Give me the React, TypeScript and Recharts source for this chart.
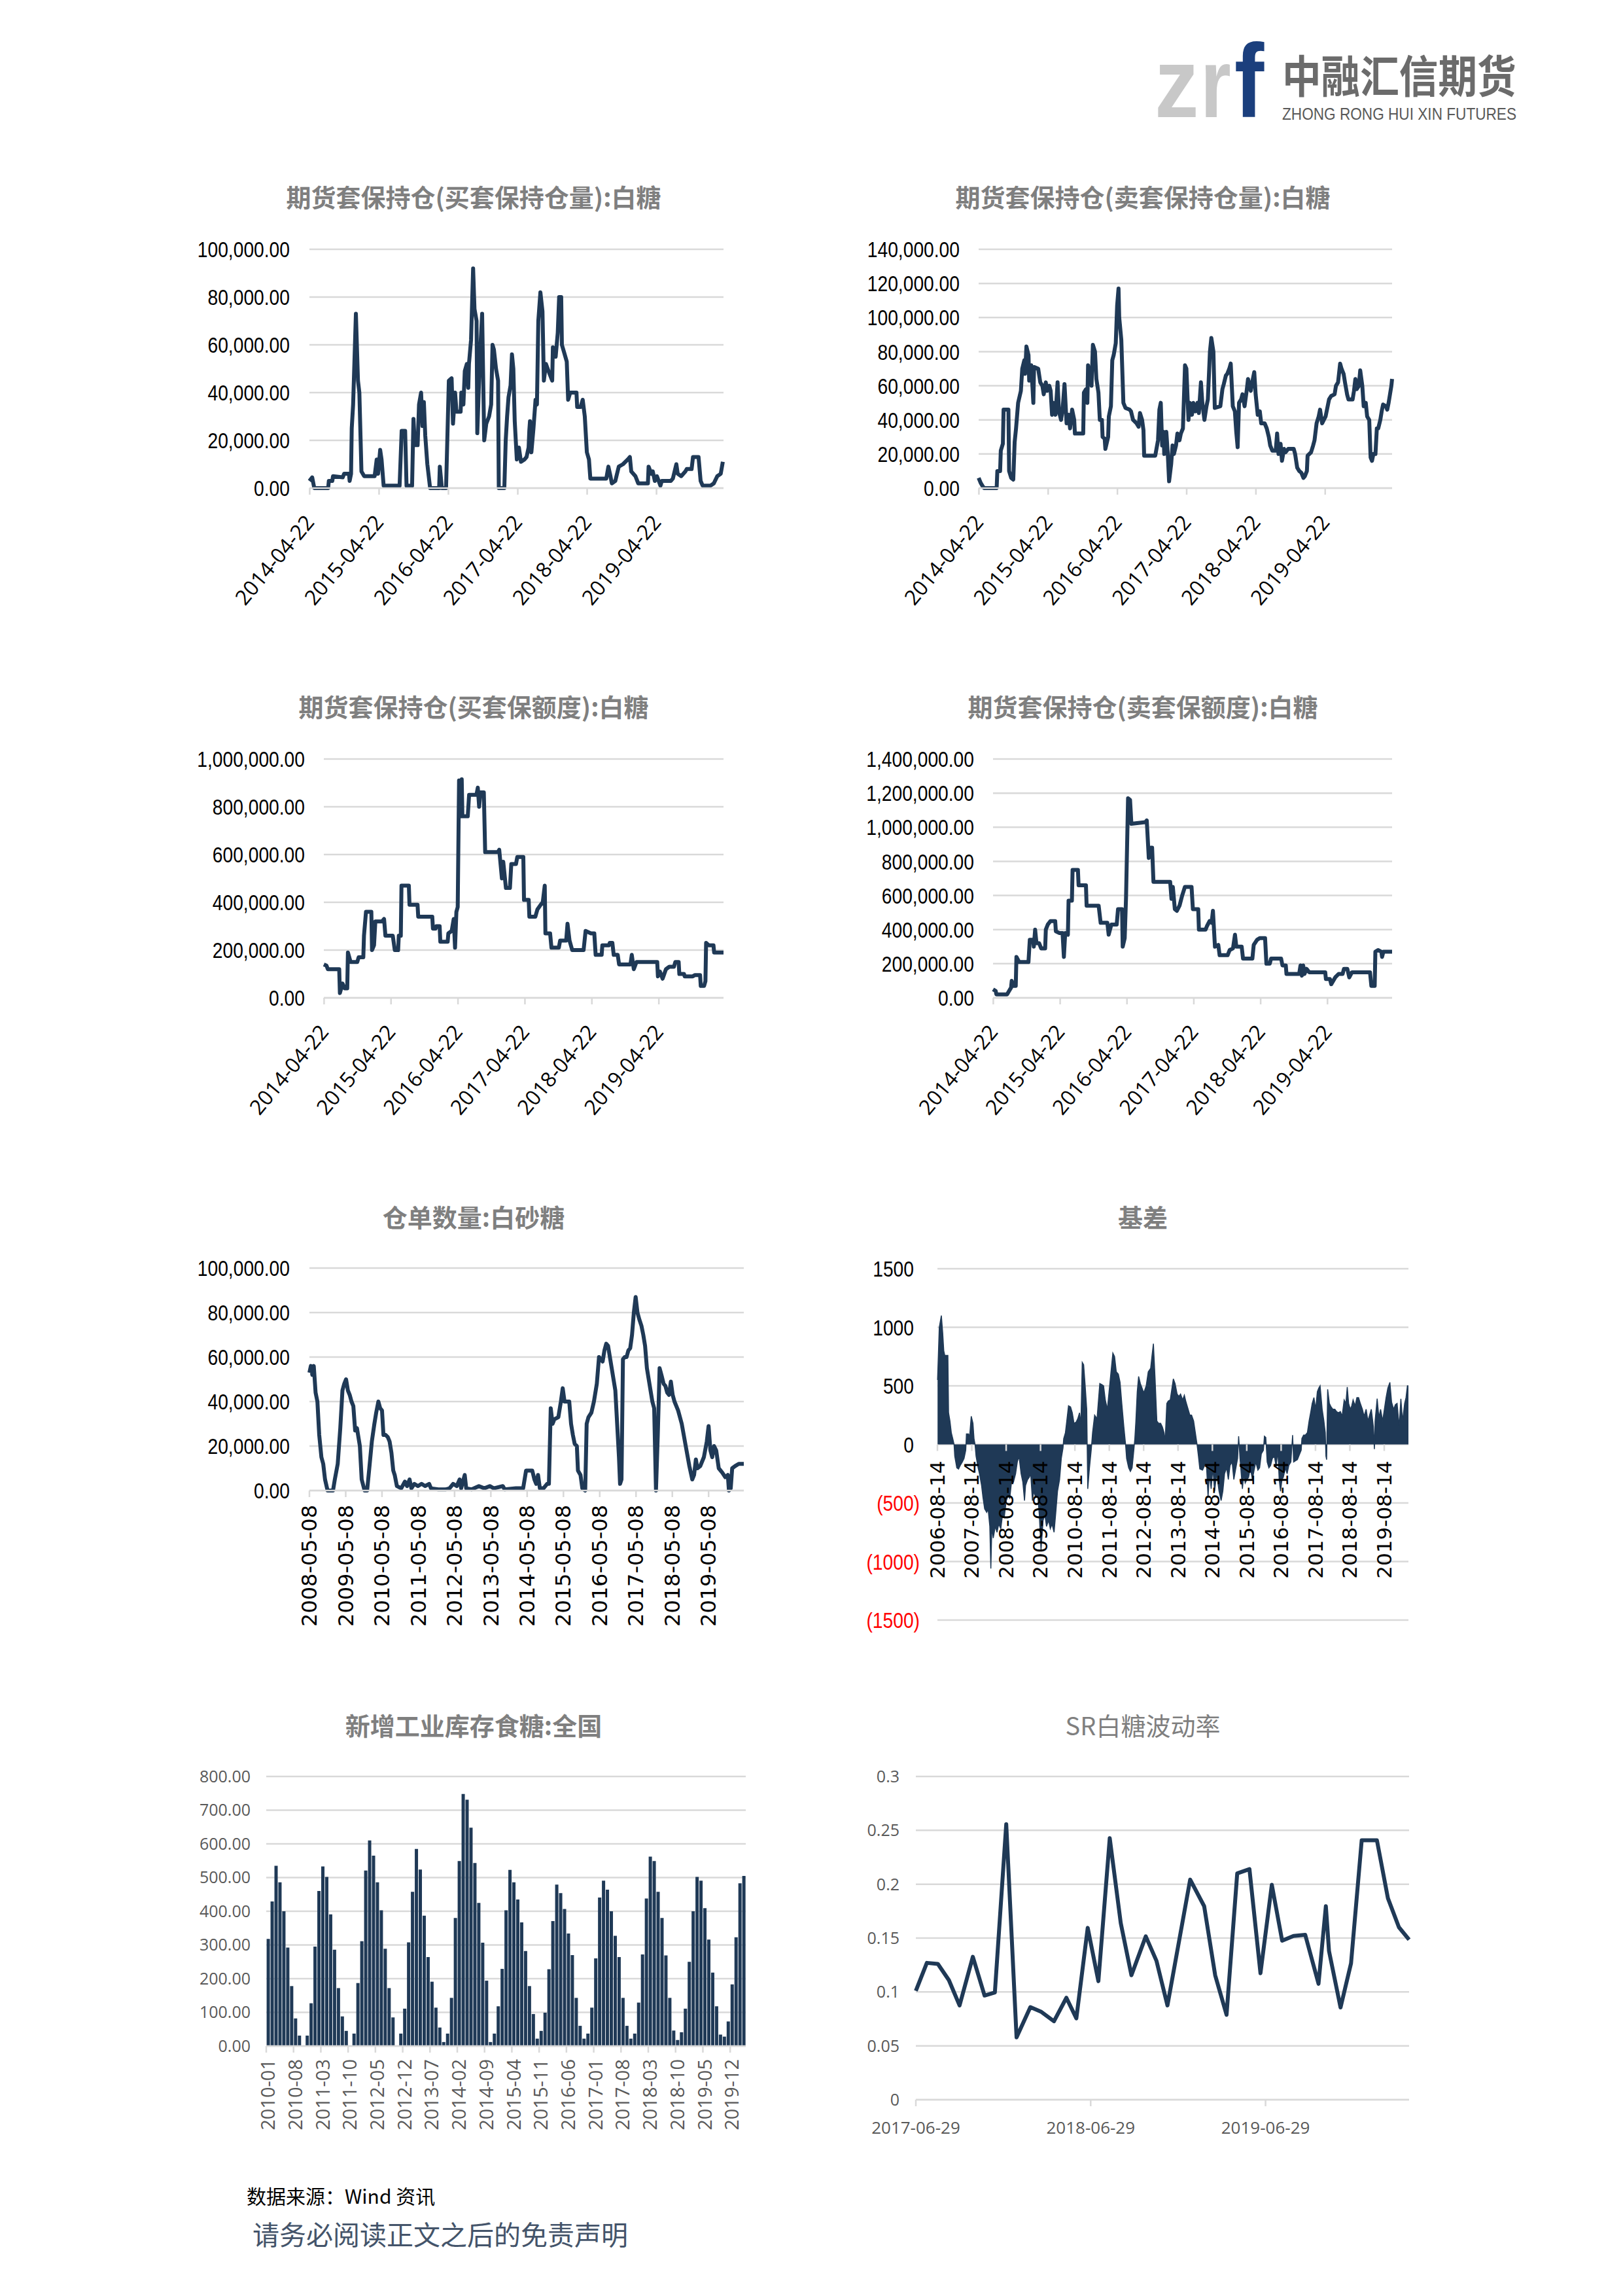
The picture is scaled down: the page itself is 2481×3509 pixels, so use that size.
import React from "react";
import { LineChart, Line, AreaChart, Area, BarChart, Bar, XAxis, YAxis, CartesianGrid } from "recharts";

const NAVY = "#1f3956";
const GRID = "#d9d9d9";
const GREY = "#595959";
const ARIAL = "'Liberation Sans', Arial, sans-serif";
const SANS = "'Open Sans', 'Noto Sans', sans-serif";
const DEJAVU = "'DejaVu Sans', 'Open Sans', sans-serif";
const CJK = "'Noto Sans CJK SC', 'Noto Sans', sans-serif";

// ---- tick labels ----
const holdTicks = [2014.304, 2015.304, 2016.304, 2017.304, 2018.304, 2019.304];
const holdTickLabels = ["2014-04-22", "2015-04-22", "2016-04-22", "2017-04-22", "2018-04-22", "2019-04-22"];
const holdEnd = 2020.27;

const receiptTicks = [2008.35, 2009.35, 2010.35, 2011.35, 2012.35, 2013.35, 2014.35, 2015.35, 2016.35, 2017.35, 2018.35, 2019.35];
const receiptTickLabels = ["2008-05-08", "2009-05-08", "2010-05-08", "2011-05-08", "2012-05-08", "2013-05-08", "2014-05-08", "2015-05-08", "2016-05-08", "2017-05-08", "2018-05-08", "2019-05-08"];
const receiptEnd = 2020.32;

const basisTicks = [2006.616, 2007.616, 2008.616, 2009.616, 2010.616, 2011.616, 2012.616, 2013.616, 2014.616, 2015.616, 2016.616, 2017.616, 2018.616, 2019.616];
const basisTickLabels = ["2006-08-14", "2007-08-14", "2008-08-14", "2009-08-14", "2010-08-14", "2011-08-14", "2012-08-14", "2013-08-14", "2014-08-14", "2015-08-14", "2016-08-14", "2017-08-14", "2018-08-14", "2019-08-14"];
const basisEnd = 2020.32;

const volTicks = [2017.49, 2018.49, 2019.49];
const volTickLabels = ["2017-06-29", "2018-06-29", "2019-06-29"];
const volEnd = 2020.311;

const yVolumeBuy = [0, 20000, 40000, 60000, 80000, 100000];
const yVolumeSell = [0, 20000, 40000, 60000, 80000, 100000, 120000, 140000];
const yQuotaBuy = [0, 200000, 400000, 600000, 800000, 1000000];
const yQuotaSell = [0, 200000, 400000, 600000, 800000, 1000000, 1200000, 1400000];
const yReceipts = [0, 20000, 40000, 60000, 80000, 100000];
const yBasis = [-1500, -1000, -500, 0, 500, 1000, 1500];
const yInventory = [0, 100, 200, 300, 400, 500, 600, 700, 800];
const yVol = [0, 0.05, 0.1, 0.15, 0.2, 0.25, 0.3];

// ---- series: [decimal year, value] ----
const buyHedgeVolume: [number, number][] = [
  [2014.30,3000],[2014.34,4500],[2014.37,0],[2014.57,0],[2014.58,3000],[2014.63,3000],[2014.64,5000],[2014.78,4500],[2014.80,6000],[2014.87,6000],[2014.88,3000],[2014.90,6000],[2014.91,25000],[2014.93,35000],[2014.97,73000],[2015.00,45000],[2015.02,40000],[2015.05,7000],[2015.09,5000],[2015.24,5000],[2015.27,12000],[2015.29,6000],[2015.32,16000],[2015.34,12000],[2015.37,1000],[2015.60,1000],[2015.63,24000],[2015.68,24000],[2015.70,1000],[2015.78,1000],[2015.80,29000],[2015.82,18000],[2015.86,18000],[2015.88,35000],[2015.91,40000],[2015.93,26000],[2015.95,36000],[2015.97,22000],[2016.00,10000],[2016.04,0],[2016.17,0],[2016.18,9000],[2016.21,0],[2016.27,0],[2016.31,45000],[2016.35,46000],[2016.37,27000],[2016.40,40000],[2016.42,32000],[2016.48,32000],[2016.49,40000],[2016.52,35000],[2016.54,49000],[2016.57,52000],[2016.59,42000],[2016.60,52000],[2016.63,62000],[2016.66,92000],[2016.68,75000],[2016.71,70000],[2016.72,23000],[2016.74,40000],[2016.76,56000],[2016.79,73000],[2016.82,20000],[2016.85,27000],[2016.89,30000],[2016.92,35000],[2016.94,60000],[2016.96,58000],[2016.99,50000],[2017.02,45000],[2017.03,0],[2017.11,0],[2017.13,20000],[2017.15,30000],[2017.17,38000],[2017.20,43000],[2017.22,56000],[2017.24,50000],[2017.26,28000],[2017.29,12000],[2017.32,17000],[2017.35,11000],[2017.40,12000],[2017.43,13000],[2017.46,17000],[2017.47,24000],[2017.48,28000],[2017.50,15000],[2017.53,25000],[2017.56,37000],[2017.58,35000],[2017.60,70000],[2017.63,82000],[2017.66,74000],[2017.68,45000],[2017.71,52000],[2017.76,48000],[2017.80,45000],[2017.81,59000],[2017.85,55000],[2017.88,65000],[2017.90,80000],[2017.93,80000],[2017.94,60000],[2017.97,57000],[2018.01,53000],[2018.03,37000],[2018.06,40000],[2018.15,40000],[2018.16,34000],[2018.21,34000],[2018.24,37000],[2018.27,30000],[2018.30,15000],[2018.33,12000],[2018.35,4000],[2018.58,4000],[2018.61,9000],[2018.64,5000],[2018.66,2000],[2018.71,3000],[2018.76,9000],[2018.82,10000],[2018.89,12000],[2018.92,13000],[2018.94,7000],[2019.00,5000],[2019.04,2000],[2019.18,2000],[2019.19,9000],[2019.23,6000],[2019.25,7000],[2019.28,3000],[2019.31,5000],[2019.36,1000],[2019.38,3000],[2019.51,3000],[2019.54,4000],[2019.59,10000],[2019.61,6000],[2019.66,5000],[2019.72,7000],[2019.74,8000],[2019.81,8000],[2019.83,13000],[2019.91,13000],[2019.94,3000],[2019.97,1000],[2020.08,1000],[2020.13,2000],[2020.18,5000],[2020.23,6000],[2020.26,11000],
];

const sellHedgeVolume: [number, number][] = [
  [2014.30,6000],[2014.33,3000],[2014.36,1000],[2014.38,0],[2014.56,0],[2014.57,10000],[2014.61,10000],[2014.62,22000],[2014.65,26000],[2014.66,46000],[2014.73,46000],[2014.74,10000],[2014.77,6000],[2014.80,5000],[2014.82,27000],[2014.84,35000],[2014.87,50000],[2014.91,57000],[2014.93,70000],[2014.96,75000],[2014.97,67000],[2014.99,83000],[2015.02,78000],[2015.03,63000],[2015.06,72000],[2015.09,50000],[2015.10,71000],[2015.16,70000],[2015.19,62000],[2015.22,60000],[2015.24,55000],[2015.27,62000],[2015.29,57000],[2015.32,60000],[2015.34,57000],[2015.36,43000],[2015.38,50000],[2015.41,43000],[2015.44,62000],[2015.46,45000],[2015.49,40000],[2015.51,45000],[2015.54,61000],[2015.57,38000],[2015.60,43000],[2015.62,35000],[2015.65,46000],[2015.68,40000],[2015.69,32000],[2015.81,32000],[2015.82,56000],[2015.85,58000],[2015.87,50000],[2015.88,72000],[2015.93,60000],[2015.95,84000],[2015.98,80000],[2016.00,64000],[2016.03,56000],[2016.05,40000],[2016.08,40000],[2016.09,30000],[2016.12,29000],[2016.13,23000],[2016.17,30000],[2016.18,42000],[2016.21,48000],[2016.23,75000],[2016.25,78000],[2016.28,85000],[2016.30,107000],[2016.32,117000],[2016.33,100000],[2016.36,87000],[2016.39,50000],[2016.42,47000],[2016.48,46000],[2016.50,45000],[2016.53,40000],[2016.58,38000],[2016.61,36000],[2016.63,44000],[2016.66,40000],[2016.68,34000],[2016.69,19000],[2016.85,19000],[2016.89,28000],[2016.91,46000],[2016.93,50000],[2016.95,25000],[2016.97,33000],[2016.98,20000],[2017.01,33000],[2017.03,21000],[2017.05,4000],[2017.08,14000],[2017.10,25000],[2017.12,20000],[2017.15,25000],[2017.17,32000],[2017.20,28000],[2017.22,32000],[2017.25,35000],[2017.28,72000],[2017.30,70000],[2017.33,40000],[2017.35,50000],[2017.38,43000],[2017.40,50000],[2017.43,45000],[2017.46,50000],[2017.48,44000],[2017.51,62000],[2017.53,50000],[2017.56,40000],[2017.59,48000],[2017.61,52000],[2017.64,80000],[2017.66,88000],[2017.69,80000],[2017.71,47000],[2017.79,48000],[2017.82,58000],[2017.84,61000],[2017.87,66000],[2017.89,67000],[2017.92,70000],[2017.94,73000],[2017.97,48000],[2018.00,45000],[2018.02,33000],[2018.04,24000],[2018.06,50000],[2018.09,52000],[2018.11,55000],[2018.14,48000],[2018.17,57000],[2018.19,64000],[2018.23,57000],[2018.25,62000],[2018.28,68000],[2018.30,55000],[2018.33,43000],[2018.36,45000],[2018.38,38000],[2018.43,38000],[2018.46,35000],[2018.49,30000],[2018.51,25000],[2018.54,22000],[2018.59,22000],[2018.61,32000],[2018.63,20000],[2018.66,26000],[2018.68,16000],[2018.71,23000],[2018.73,21000],[2018.77,23000],[2018.85,23000],[2018.87,20000],[2018.90,12000],[2018.93,10000],[2018.96,9000],[2018.99,6000],[2019.01,7000],[2019.04,10000],[2019.05,19000],[2019.10,21000],[2019.13,25000],[2019.15,28000],[2019.18,38000],[2019.21,42000],[2019.23,46000],[2019.26,38000],[2019.31,42000],[2019.36,52000],[2019.39,54000],[2019.44,55000],[2019.46,60000],[2019.49,62000],[2019.52,73000],[2019.54,70000],[2019.57,67000],[2019.59,62000],[2019.62,55000],[2019.64,52000],[2019.70,52000],[2019.72,57000],[2019.74,64000],[2019.76,58000],[2019.79,60000],[2019.81,69000],[2019.84,60000],[2019.86,48000],[2019.89,50000],[2019.91,42000],[2019.94,40000],[2019.96,18000],[2019.98,16000],[2020.00,20000],[2020.03,20000],[2020.05,35000],[2020.07,35000],[2020.10,40000],[2020.12,45000],[2020.14,49000],[2020.18,48000],[2020.20,46000],[2020.22,50000],[2020.24,55000],[2020.26,60000],[2020.27,64000],
];

const buyHedgeQuota: [number, number][] = [
  [2014.30,140000],[2014.34,135000],[2014.36,120000],[2014.53,120000],[2014.54,20000],[2014.58,60000],[2014.61,40000],[2014.65,40000],[2014.66,190000],[2014.70,150000],[2014.80,150000],[2014.82,170000],[2014.89,170000],[2014.90,260000],[2014.93,360000],[2015.01,360000],[2015.02,200000],[2015.05,220000],[2015.07,320000],[2015.17,320000],[2015.20,330000],[2015.22,260000],[2015.33,260000],[2015.36,200000],[2015.41,200000],[2015.42,260000],[2015.45,260000],[2015.46,470000],[2015.57,470000],[2015.58,390000],[2015.70,390000],[2015.71,340000],[2015.92,340000],[2015.93,290000],[2015.97,290000],[2015.98,300000],[2016.03,300000],[2016.04,235000],[2016.15,235000],[2016.16,270000],[2016.21,280000],[2016.24,330000],[2016.26,210000],[2016.28,360000],[2016.30,380000],[2016.32,910000],[2016.34,760000],[2016.36,915000],[2016.37,760000],[2016.45,760000],[2016.47,850000],[2016.58,850000],[2016.60,880000],[2016.62,800000],[2016.64,860000],[2016.69,860000],[2016.71,610000],[2016.90,610000],[2016.92,620000],[2016.96,500000],[2016.98,570000],[2017.02,460000],[2017.08,460000],[2017.10,560000],[2017.17,560000],[2017.19,590000],[2017.28,590000],[2017.29,410000],[2017.36,410000],[2017.37,340000],[2017.46,340000],[2017.49,370000],[2017.54,390000],[2017.57,400000],[2017.60,470000],[2017.61,270000],[2017.68,270000],[2017.70,210000],[2017.81,210000],[2017.83,240000],[2017.92,240000],[2017.94,310000],[2017.97,240000],[2018.01,200000],[2018.18,200000],[2018.21,280000],[2018.29,270000],[2018.34,270000],[2018.36,180000],[2018.45,180000],[2018.46,220000],[2018.56,220000],[2018.57,230000],[2018.61,230000],[2018.63,180000],[2018.69,180000],[2018.71,140000],[2018.88,140000],[2018.90,180000],[2018.93,120000],[2018.97,150000],[2019.28,150000],[2019.29,90000],[2019.32,110000],[2019.36,80000],[2019.41,120000],[2019.46,130000],[2019.53,130000],[2019.55,150000],[2019.60,150000],[2019.61,100000],[2019.68,100000],[2019.69,90000],[2019.81,90000],[2019.84,95000],[2019.92,95000],[2019.93,50000],[2019.98,50000],[2020.00,70000],[2020.01,230000],[2020.05,220000],[2020.12,220000],[2020.13,190000],[2020.27,190000],
];

const sellHedgeQuota: [number, number][] = [
  [2014.30,50000],[2014.34,40000],[2014.35,20000],[2014.51,20000],[2014.54,40000],[2014.57,60000],[2014.58,100000],[2014.60,70000],[2014.64,70000],[2014.65,240000],[2014.69,210000],[2014.83,210000],[2014.85,340000],[2014.90,340000],[2014.91,300000],[2014.93,400000],[2014.95,320000],[2014.99,320000],[2015.02,290000],[2015.08,290000],[2015.09,400000],[2015.12,430000],[2015.16,450000],[2015.23,450000],[2015.24,390000],[2015.29,380000],[2015.34,380000],[2015.36,240000],[2015.38,380000],[2015.42,370000],[2015.43,570000],[2015.48,570000],[2015.49,750000],[2015.57,750000],[2015.58,660000],[2015.69,660000],[2015.70,540000],[2015.88,540000],[2015.91,440000],[2016.01,440000],[2016.03,370000],[2016.07,430000],[2016.15,430000],[2016.17,520000],[2016.23,520000],[2016.24,300000],[2016.27,350000],[2016.29,590000],[2016.32,1170000],[2016.35,1160000],[2016.37,1020000],[2016.58,1030000],[2016.60,1040000],[2016.63,820000],[2016.66,880000],[2016.68,880000],[2016.70,680000],[2016.95,680000],[2016.97,580000],[2016.99,650000],[2017.02,520000],[2017.05,510000],[2017.09,540000],[2017.13,600000],[2017.17,650000],[2017.27,650000],[2017.29,520000],[2017.37,520000],[2017.38,400000],[2017.48,400000],[2017.50,420000],[2017.54,450000],[2017.57,440000],[2017.59,510000],[2017.62,300000],[2017.67,310000],[2017.69,250000],[2017.81,250000],[2017.84,280000],[2017.89,290000],[2017.92,370000],[2017.94,300000],[2018.02,300000],[2018.04,230000],[2018.18,230000],[2018.20,310000],[2018.25,340000],[2018.29,350000],[2018.37,350000],[2018.39,200000],[2018.44,200000],[2018.46,230000],[2018.61,230000],[2018.63,190000],[2018.68,190000],[2018.69,140000],[2018.88,140000],[2018.90,190000],[2018.92,130000],[2018.94,190000],[2018.96,140000],[2018.99,170000],[2019.03,150000],[2019.27,150000],[2019.28,110000],[2019.34,110000],[2019.36,80000],[2019.42,120000],[2019.47,140000],[2019.53,140000],[2019.55,170000],[2019.60,170000],[2019.63,120000],[2019.67,150000],[2019.71,150000],[2019.94,150000],[2019.96,70000],[2020.01,70000],[2020.02,270000],[2020.06,280000],[2020.11,270000],[2020.12,240000],[2020.14,270000],[2020.27,270000],
];

const warehouseReceipts: [number, number][] = [
  [2008.35,53000],[2008.39,56000],[2008.43,52000],[2008.47,56000],[2008.52,44000],[2008.57,40000],[2008.62,25000],[2008.68,15000],[2008.73,12000],[2008.78,5000],[2008.85,0],[2009.00,0],[2009.05,5000],[2009.13,12000],[2009.20,28000],[2009.26,45000],[2009.31,48000],[2009.36,50000],[2009.41,45000],[2009.46,43000],[2009.51,40000],[2009.56,38000],[2009.61,27000],[2009.66,28000],[2009.74,20000],[2009.79,5000],[2009.87,0],[2009.94,0],[2010.00,10000],[2010.07,22000],[2010.14,30000],[2010.19,35000],[2010.25,40000],[2010.30,37000],[2010.35,36000],[2010.39,25000],[2010.45,25000],[2010.51,24000],[2010.56,22000],[2010.61,17000],[2010.66,9000],[2010.70,7000],[2010.76,2000],[2010.88,1000],[2010.98,4000],[2011.04,2000],[2011.11,5000],[2011.16,1000],[2011.24,3000],[2011.34,2000],[2011.44,3000],[2011.54,2000],[2011.65,3000],[2011.70,1000],[2011.90,500],[2012.10,500],[2012.21,1000],[2012.31,3000],[2012.41,2000],[2012.49,5000],[2012.53,1000],[2012.63,7000],[2012.67,1000],[2012.82,500],[2013.02,2000],[2013.17,1000],[2013.32,2000],[2013.43,1000],[2013.68,2000],[2013.73,500],[2014.04,1000],[2014.24,1000],[2014.32,9000],[2014.39,9000],[2014.49,9000],[2014.55,5000],[2014.60,3000],[2014.65,7000],[2014.70,1000],[2014.80,1000],[2014.90,3000],[2014.95,3000],[2015.00,37000],[2015.05,30000],[2015.10,32000],[2015.21,33000],[2015.28,40000],[2015.33,46000],[2015.38,40000],[2015.51,40000],[2015.56,30000],[2015.61,25000],[2015.66,21000],[2015.72,20000],[2015.75,9000],[2015.82,7000],[2015.87,1000],[2015.95,0],[2015.99,30000],[2016.04,33000],[2016.12,35000],[2016.19,40000],[2016.27,48000],[2016.33,60000],[2016.38,59000],[2016.43,58000],[2016.48,63000],[2016.53,66000],[2016.58,65000],[2016.63,60000],[2016.68,55000],[2016.73,50000],[2016.78,45000],[2016.83,30000],[2016.88,15000],[2016.91,3000],[2016.95,5000],[2016.99,59000],[2017.04,60000],[2017.09,60000],[2017.14,63000],[2017.19,64000],[2017.24,70000],[2017.29,80000],[2017.34,87000],[2017.39,80000],[2017.44,77000],[2017.50,74000],[2017.55,70000],[2017.60,65000],[2017.65,55000],[2017.70,50000],[2017.75,45000],[2017.80,40000],[2017.85,37000],[2017.90,0],[2017.95,25000],[2018.00,55000],[2018.05,52000],[2018.11,48000],[2018.16,47000],[2018.21,44000],[2018.26,43000],[2018.31,49000],[2018.36,43000],[2018.41,40000],[2018.51,36000],[2018.61,30000],[2018.72,20000],[2018.82,11000],[2018.90,5000],[2018.95,7000],[2019.00,14000],[2019.04,10000],[2019.12,11000],[2019.22,15000],[2019.30,22000],[2019.35,29000],[2019.40,18000],[2019.45,15000],[2019.50,20000],[2019.56,18000],[2019.63,10000],[2019.73,8000],[2019.81,6000],[2019.88,7000],[2019.91,0],[2019.96,1000],[2020.00,10000],[2020.08,11000],[2020.18,12000],[2020.32,12000],
];

const basis: [number, number][] = [
  [2006.62,550],[2006.67,1000],[2006.73,1100],[2006.77,950],[2006.80,800],[2006.83,760],[2006.92,760],[2006.94,270],[2006.98,200],[2007.02,100],[2007.07,40],[2007.10,0],[2007.12,-100],[2007.18,-200],[2007.23,-210],[2007.28,-180],[2007.34,-150],[2007.39,-120],[2007.44,-50],[2007.46,90],[2007.52,90],[2007.55,60],[2007.60,240],[2007.65,180],[2007.68,50],[2007.71,0],[2007.74,-100],[2007.80,-200],[2007.84,-250],[2007.90,-350],[2007.94,-450],[2007.99,-550],[2008.05,-580],[2008.09,-550],[2008.14,-700],[2008.17,-1060],[2008.20,-700],[2008.24,-800],[2008.30,-700],[2008.35,-750],[2008.40,-680],[2008.46,-720],[2008.51,-600],[2008.56,-620],[2008.62,-480],[2008.67,-440],[2008.72,-460],[2008.78,-300],[2008.83,-320],[2008.89,-250],[2008.94,-150],[2008.99,-100],[2009.05,-250],[2009.10,-320],[2009.15,-480],[2009.18,-350],[2009.24,-300],[2009.29,-280],[2009.33,-250],[2009.38,-480],[2009.42,-400],[2009.47,-450],[2009.53,-420],[2009.58,-600],[2009.63,-900],[2009.69,-650],[2009.74,-600],[2009.79,-700],[2009.85,-650],[2009.90,-720],[2009.95,-680],[2010.01,-750],[2010.06,-580],[2010.11,-400],[2010.17,-300],[2010.22,-120],[2010.27,-30],[2010.29,50],[2010.34,100],[2010.38,200],[2010.43,330],[2010.49,320],[2010.54,270],[2010.59,180],[2010.65,190],[2010.70,220],[2010.75,270],[2010.79,170],[2010.83,700],[2010.87,680],[2010.91,520],[2010.96,300],[2010.99,-380],[2011.04,-200],[2011.09,-50],[2011.13,100],[2011.19,250],[2011.26,220],[2011.34,520],[2011.40,510],[2011.45,500],[2011.50,380],[2011.56,300],[2011.61,450],[2011.66,600],[2011.72,780],[2011.77,750],[2011.82,620],[2011.88,600],[2011.93,530],[2011.98,350],[2012.04,150],[2012.09,0],[2012.12,-120],[2012.18,-200],[2012.23,-230],[2012.28,-200],[2012.33,-50],[2012.36,50],[2012.39,200],[2012.43,450],[2012.47,580],[2012.52,520],[2012.57,480],[2012.62,440],[2012.69,500],[2012.75,620],[2012.82,650],[2012.86,760],[2012.90,860],[2012.95,550],[2013.00,200],[2013.05,180],[2013.11,180],[2013.16,150],[2013.21,100],[2013.24,20],[2013.29,350],[2013.33,370],[2013.39,380],[2013.48,560],[2013.53,520],[2013.59,430],[2013.64,410],[2013.69,430],[2013.75,380],[2013.80,420],[2013.85,360],[2013.91,300],[2013.96,250],[2014.01,250],[2014.07,200],[2014.12,100],[2014.17,0],[2014.21,-100],[2014.25,-210],[2014.33,-220],[2014.39,-180],[2014.44,-150],[2014.49,-450],[2014.53,-250],[2014.58,-380],[2014.63,-200],[2014.68,-400],[2014.74,-250],[2014.81,-400],[2014.87,-480],[2014.92,-400],[2014.97,-250],[2015.03,-200],[2015.08,-300],[2015.13,-180],[2015.19,-150],[2015.24,-300],[2015.30,-200],[2015.35,-120],[2015.38,70],[2015.42,-120],[2015.49,-380],[2015.53,-250],[2015.57,-330],[2015.62,-300],[2015.67,-280],[2015.72,-200],[2015.78,-300],[2015.83,-220],[2015.88,-150],[2015.94,-220],[2015.99,-200],[2016.04,-80],[2016.10,-50],[2016.13,70],[2016.17,60],[2016.21,-150],[2016.26,-200],[2016.31,-180],[2016.36,-120],[2016.42,-100],[2016.47,-190],[2016.52,-50],[2016.56,-300],[2016.60,-400],[2016.64,-300],[2016.68,-280],[2016.74,-200],[2016.79,-250],[2016.84,-180],[2016.90,-150],[2016.95,80],[2016.98,-150],[2017.03,-140],[2017.09,-130],[2017.13,-100],[2017.20,-50],[2017.22,50],[2017.27,80],[2017.32,80],[2017.38,100],[2017.43,200],[2017.48,280],[2017.52,350],[2017.57,400],[2017.62,300],[2017.67,450],[2017.71,480],[2017.75,500],[2017.81,300],[2017.86,200],[2017.90,100],[2017.92,-100],[2017.94,-130],[2017.97,470],[2018.02,350],[2018.07,320],[2018.12,300],[2018.18,300],[2018.23,280],[2018.28,270],[2018.34,280],[2018.39,240],[2018.45,380],[2018.50,350],[2018.54,490],[2018.58,350],[2018.63,300],[2018.67,330],[2018.71,380],[2018.77,330],[2018.82,400],[2018.87,400],[2018.92,350],[2018.98,300],[2019.03,240],[2019.09,300],[2019.14,200],[2019.19,250],[2019.24,300],[2019.30,150],[2019.33,-40],[2019.35,200],[2019.41,390],[2019.46,230],[2019.51,300],[2019.57,200],[2019.62,300],[2019.67,400],[2019.72,480],[2019.78,530],[2019.83,360],[2019.89,300],[2019.94,340],[2019.99,350],[2020.05,150],[2020.10,390],[2020.15,200],[2020.21,350],[2020.25,400],[2020.29,500],[2020.32,500],
];

const inventoryMonths = [
  "2010-01","2010-02","2010-03","2010-04","2010-05","2010-06","2010-07","2010-08","2010-09","2010-10","2010-11","2010-12",
  "2011-01","2011-02","2011-03","2011-04","2011-05","2011-06","2011-07","2011-08","2011-09","2011-10","2011-11","2011-12",
  "2012-01","2012-02","2012-03","2012-04","2012-05","2012-06","2012-07","2012-08","2012-09","2012-10","2012-11","2012-12",
  "2013-01","2013-02","2013-03","2013-04","2013-05","2013-06","2013-07","2013-08","2013-09","2013-10","2013-11","2013-12",
  "2014-01","2014-02","2014-03","2014-04","2014-05","2014-06","2014-07","2014-08","2014-09","2014-10","2014-11","2014-12",
  "2015-01","2015-02","2015-03","2015-04","2015-05","2015-06","2015-07","2015-08","2015-09","2015-10","2015-11","2015-12",
  "2016-01","2016-02","2016-03","2016-04","2016-05","2016-06","2016-07","2016-08","2016-09","2016-10","2016-11","2016-12",
  "2017-01","2017-02","2017-03","2017-04","2017-05","2017-06","2017-07","2017-08","2017-09","2017-10","2017-11","2017-12",
  "2018-01","2018-02","2018-03","2018-04","2018-05","2018-06","2018-07","2018-08","2018-09","2018-10","2018-11","2018-12",
  "2019-01","2019-02","2019-03","2019-04","2019-05","2019-06","2019-07","2019-08","2019-09","2019-10","2019-11","2019-12",
  "2020-01","2020-02","2020-03",
];
const inventoryValues: (number | null)[] = [
  318, 429, 535, 486, 400, 292, 178, 82, 31, null, 31, 127,
  295, 460, 533, 502, 391, 286, 172, 88, 45, null, 37, 187,
  311, 521, 610, 565, 486, 403, 289, 172, 85, null, 37, 111,
  308, 458, 585, 524, 387, 264, 191, 114, 55, 12, 37, 143,
  380, 549, 748, 731, 648, 543, 425, 307, 194, 12, 37, 118,
  229, 403, 523, 486, 435, 367, 282, 178, 95, 22, 45, 99,
  228, 371, 479, 454, 407, 334, 270, 143, 60, 22, 37, 114,
  260, 441, 491, 464, 400, 327, 264, 143, 60, 22, 37, 129,
  272, 438, 562, 549, 458, 380, 269, 143, 46, 18, 41, 111,
  250, 400, 502, 491, 409, 316, 218, 118, 34, 28, 73, 183,
  323, 483, 505,
];

const volatility: [number, number][] = [
  [2017.49,0.101],[2017.553,0.127],[2017.616,0.126],[2017.679,0.111],[2017.74,0.0875],[2017.816,0.1326],[2017.883,0.0967],[2017.942,0.0995],[2018.007,0.2557],[2018.066,0.0579],[2018.145,0.0859],[2018.208,0.0815],[2018.28,0.0728],[2018.351,0.0946],[2018.408,0.0755],[2018.473,0.1595],[2018.534,0.11],[2018.599,0.2427],[2018.662,0.1639],[2018.723,0.1155],[2018.805,0.1516],[2018.866,0.129],[2018.929,0.0875],[2019.059,0.2043],[2019.139,0.1796],[2019.202,0.1155],[2019.267,0.0788],[2019.328,0.21],[2019.398,0.214],[2019.461,0.1174],[2019.526,0.1995],[2019.585,0.1476],[2019.65,0.152],[2019.717,0.153],[2019.793,0.1076],[2019.835,0.1796],[2019.853,0.138],[2019.919,0.0856],[2019.979,0.1266],[2020.04,0.2408],[2020.127,0.2408],[2020.19,0.187],[2020.253,0.16],[2020.311,0.1486],
];

// ---- layout ----
type Plot = { x0: number; y0: number; x1: number; y1: number };
const P1: Plot = { x0: 473, y0: 381, x1: 1106, y1: 746 };
const P2: Plot = { x0: 1496, y0: 381, x1: 2128, y1: 746 };
const P3: Plot = { x0: 495, y0: 1160, x1: 1106, y1: 1525 };
const P4: Plot = { x0: 1518, y0: 1160, x1: 2128, y1: 1525 };
const P5: Plot = { x0: 473, y0: 1938, x1: 1137, y1: 2278 };
const P6: Plot = { x0: 1433, y0: 1939, x1: 2153, y1: 2476 };
const P7: Plot = { x0: 407, y0: 2715, x1: 1140, y1: 3127 };
const P8: Plot = { x0: 1400, y0: 2715, x1: 2154, y1: 3209 };

const MT = 30;
const MR = 30;
const YW = 220;

function frame(p: Plot, xH: number) {
  return {
    style: { position: "absolute" as const, left: p.x0 - YW, top: p.y0 - MT },
    width: p.x1 - p.x0 + YW + MR,
    height: p.y1 - p.y0 + MT + xH,
    margin: { top: MT, right: MR, left: 0, bottom: 0 },
  };
}

const fmt2 = (v: number) => v.toLocaleString("en-US", { minimumFractionDigits: 2, maximumFractionDigits: 2 });
const toRows = (s: [number, number][]) => s.map(([t, v]) => ({ t, v }));

// condensed value labels (the original uses a narrow face)
function NarrowTick(props: any) {
  const { x, y, payload, paren = false } = props;
  const v = payload.value as number;
  const neg = paren && v < 0;
  const label = paren ? (neg ? `(${-v})` : String(v)) : fmt2(v);
  const tx = paren && !neg ? x - 9 : x;
  return (
    <g transform={`translate(${tx},${y}) scale(0.83,1)`}>
      <text x={0} y={0} dy="0.355em" textAnchor="end" fontSize={34} fontFamily={ARIAL} fill={neg ? "#ff0000" : "#000"}>
        {label}
      </text>
    </g>
  );
}

function DiagTick(props: any) {
  const { x, y, index, labels } = props;
  return (
    <text x={x} y={y} dy="0.35em" textAnchor="end" transform={`rotate(-50 ${x} ${y})`}
      fontSize={32} fontFamily={SANS} fill="#000">
      {labels[index]}
    </text>
  );
}

function UpTick(props: any) {
  const { x, y, index, payload, labels, lift = 0, gap = 0, mark = false, markShift = 0, size = 32, color = "#000", font = SANS } = props;
  const base = y - lift;
  const ty = base + gap;
  const label = labels ? labels[index] : payload.value;
  return (
    <g>
      {mark && <line x1={x + markShift} x2={x + markShift} y1={base} y2={base + 10} stroke={GRID} strokeWidth={2.5} />}
      <text x={x} y={ty} dy="0.35em" textAnchor="end" transform={`rotate(-90 ${x} ${ty})`}
        fontSize={size} fontFamily={font} fill={color}>
        {label}
      </text>
    </g>
  );
}

function Title({ cx, cy, text, bold = true }: { cx: number; cy: number; text: string; bold?: boolean }) {
  return (
    <div style={{
      position: "absolute", left: cx - 600, top: cy - 25, width: 1200, textAlign: "center",
      fontFamily: CJK, fontSize: 38, fontWeight: bold ? 700 : 400, color: "#7f7f7f",
      lineHeight: "50px", whiteSpace: "nowrap",
    }}>
      {text}
    </div>
  );
}

function HoldChart({ plot, series, yTicks, gap }: { plot: Plot; series: [number, number][]; yTicks: number[]; gap: number }) {
  const f = frame(plot, 240);
  return (
    <div style={f.style}>
      <LineChart width={f.width} height={f.height} margin={f.margin} data={toRows(series)}>
        <CartesianGrid vertical={false} stroke={GRID} strokeWidth={2.5} />
        <YAxis type="number" domain={[0, yTicks[yTicks.length - 1]]} ticks={yTicks} interval={0} width={YW}
          axisLine={false} tickLine={false} tickSize={0} tickMargin={gap} tick={<NarrowTick />} />
        <XAxis dataKey="t" type="number" domain={[holdTicks[0], holdEnd]} ticks={holdTicks} interval={0} height={240}
          axisLine={{ stroke: GRID, strokeWidth: 2.5 }} tickLine={{ stroke: GRID, strokeWidth: 2.5 }}
          tickSize={10} tickMargin={36} tick={<DiagTick labels={holdTickLabels} />} />
        <Line dataKey="v" type="linear" stroke={NAVY} strokeWidth={6} strokeLinejoin="round" dot={false} isAnimationActive={false} />
      </LineChart>
    </div>
  );
}

function ReceiptChart() {
  const f = frame(P5, 240);
  return (
    <div style={f.style}>
      <LineChart width={f.width} height={f.height} margin={f.margin} data={toRows(warehouseReceipts)}>
        <CartesianGrid vertical={false} stroke={GRID} strokeWidth={2.5} />
        <YAxis type="number" domain={[0, 100000]} ticks={yReceipts} interval={0} width={YW}
          axisLine={false} tickLine={false} tickSize={0} tickMargin={30} tick={<NarrowTick />} />
        <XAxis dataKey="t" type="number" domain={[receiptTicks[0], receiptEnd]} ticks={receiptTicks} interval={0} height={240}
          axisLine={{ stroke: GRID, strokeWidth: 2.5 }} tickLine={{ stroke: GRID, strokeWidth: 2.5 }}
          tickSize={10} tickMargin={12} tick={<UpTick labels={receiptTickLabels} size={32} font={DEJAVU} />} />
        <Line dataKey="v" type="linear" stroke={NAVY} strokeWidth={6} strokeLinejoin="round" dot={false} isAnimationActive={false} />
      </LineChart>
    </div>
  );
}

function BasisChart() {
  const f = frame(P6, 40);
  const lift = ((P6.y1 - P6.y0) * (0 - yBasis[0])) / (yBasis[yBasis.length - 1] - yBasis[0]);
  return (
    <div style={f.style}>
      <AreaChart width={f.width} height={f.height} margin={f.margin} data={toRows(basis)}>
        <CartesianGrid vertical={false} stroke={GRID} strokeWidth={2.5} />
        <YAxis type="number" domain={[yBasis[0], yBasis[yBasis.length - 1]]} ticks={yBasis} interval={0} width={YW}
          axisLine={false} tickLine={false} tickSize={0} tickMargin={27} tick={<NarrowTick paren />} />
        <Area dataKey="v" type="linear" baseValue={0} stroke={NAVY} strokeWidth={1.5} fill={NAVY} fillOpacity={1} isAnimationActive={false} />
        <XAxis dataKey="t" type="number" domain={[basisTicks[0], basisEnd]} ticks={basisTicks} interval={0} height={40}
          axisLine={false} tickLine={false} tickSize={0} tickMargin={0}
          tick={<UpTick labels={basisTickLabels} lift={lift} gap={25} mark size={31} font={DEJAVU} />} />
      </AreaChart>
    </div>
  );
}

function InventoryChart() {
  const f = frame(P7, 180);
  const rows = inventoryMonths.map((m, i) => ({ m, v: inventoryValues[i] }));
  const band = (P7.x1 - P7.x0) / inventoryMonths.length;
  return (
    <div style={f.style}>
      <BarChart width={f.width} height={f.height} margin={f.margin} data={rows} barCategoryGap="10%">
        <CartesianGrid vertical={false} stroke={GRID} strokeWidth={2.5} />
        <YAxis type="number" domain={[0, 800]} ticks={yInventory} interval={0} width={YW}
          axisLine={false} tickLine={false} tickSize={0} tickMargin={24} tickFormatter={(v: number) => v.toFixed(2)}
          tick={{ fill: GREY, fontSize: 25, fontFamily: SANS }} />
        <Bar dataKey="v" fill={NAVY} isAnimationActive={false} />
        <XAxis dataKey="m" interval={6} height={180}
          axisLine={{ stroke: GRID, strokeWidth: 2.5 }} tickLine={false}
          tickSize={0} tickMargin={20}
          tick={<UpTick size={29} color={GREY} mark markShift={-band / 2} lift={20} gap={20} />} />
      </BarChart>
    </div>
  );
}

function VolChart() {
  const f = frame(P8, 80);
  return (
    <div style={f.style}>
      <LineChart width={f.width} height={f.height} margin={f.margin} data={toRows(volatility)}>
        <CartesianGrid vertical={false} stroke={GRID} strokeWidth={2.5} />
        <YAxis type="number" domain={[0, 0.3]} ticks={yVol} interval={0} width={YW}
          axisLine={false} tickLine={false} tickSize={0} tickMargin={25} tickFormatter={(v: number) => String(v)}
          tick={{ fill: GREY, fontSize: 25, fontFamily: SANS }} />
        <XAxis dataKey="t" type="number" domain={[volTicks[0], volEnd]} ticks={volTicks} interval={0} height={80}
          axisLine={{ stroke: GRID, strokeWidth: 2.5 }} tickLine={{ stroke: GRID, strokeWidth: 2.5 }}
          tickSize={10} tickMargin={24} tickFormatter={(_v: number, i: number) => volTickLabels[i]}
          tick={{ fill: GREY, fontSize: 26, fontFamily: SANS }} />
        <Line dataKey="v" type="linear" stroke={NAVY} strokeWidth={6} strokeLinejoin="round" dot={false} isAnimationActive={false} />
      </LineChart>
    </div>
  );
}

function Logo() {
  return (
    <svg style={{ position: "absolute", left: 1740, top: 30 }} width={680} height={190}>
      <g transform="translate(25,149) scale(0.9,1)">
        <text x={0} y={0} fontFamily={ARIAL} fontWeight={700} fontSize={150} fill="#c8c8c8">z</text>
      </g>
      <g transform="translate(95,149) scale(0.8,1)">
        <text x={0} y={0} fontFamily={ARIAL} fontWeight={700} fontSize={150} fill="#c8c8c8">r</text>
      </g>
      <g transform="translate(147,149) scale(0.85,1)">
        <text x={0} y={0} fontFamily={ARIAL} fontWeight={700} fontSize={160} fill="#1b3f7d">f</text>
      </g>
      <g transform="translate(220,112) scale(0.877,1)">
        <text x={0} y={0} fontFamily={CJK} fontWeight={700} fontSize={68} fill="#6b6b6b">中融汇信期货</text>
      </g>
      <g transform="translate(220,153) scale(0.87,1)">
        <text x={0} y={0} fontFamily={ARIAL} fontSize={26} fill={GREY}>ZHONG RONG HUI XIN FUTURES</text>
      </g>
    </svg>
  );
}

export default function App() {
  return (
    <div style={{ position: "absolute", left: 0, top: 0, width: 2481, height: 3509, background: "#fff", overflow: "hidden" }}>
      <Logo />

      <Title cx={724} cy={300} text="期货套保持仓(买套保持仓量):白糖" />
      <Title cx={1747} cy={300} text="期货套保持仓(卖套保持仓量):白糖" />
      <HoldChart plot={P1} series={buyHedgeVolume} yTicks={yVolumeBuy} gap={30} />
      <HoldChart plot={P2} series={sellHedgeVolume} yTicks={yVolumeSell} gap={29} />

      <Title cx={724} cy={1079} text="期货套保持仓(买套保额度):白糖" />
      <Title cx={1747} cy={1079} text="期货套保持仓(卖套保额度):白糖" />
      <HoldChart plot={P3} series={buyHedgeQuota} yTicks={yQuotaBuy} gap={29} />
      <HoldChart plot={P4} series={sellHedgeQuota} yTicks={yQuotaSell} gap={29} />

      <Title cx={724} cy={1859} text="仓单数量:白砂糖" />
      <Title cx={1747} cy={1859} text="基差" />
      <ReceiptChart />
      <BasisChart />

      <Title cx={724} cy={2636} text="新增工业库存食糖:全国" />
      <Title cx={1747} cy={2636} text="SR白糖波动率" bold={false} />
      <InventoryChart />
      <VolChart />

      <div style={{ position: "absolute", left: 377, top: 3335, fontFamily: CJK, fontSize: 30, lineHeight: "40px", color: "#000", whiteSpace: "nowrap" }}>
        数据来源：Wind 资讯
      </div>
      <div style={{ position: "absolute", left: 386, top: 3386, fontFamily: CJK, fontSize: 41, lineHeight: "54px", color: "#44546a", whiteSpace: "nowrap" }}>
        请务必阅读正文之后的免责声明
      </div>
    </div>
  );
}
